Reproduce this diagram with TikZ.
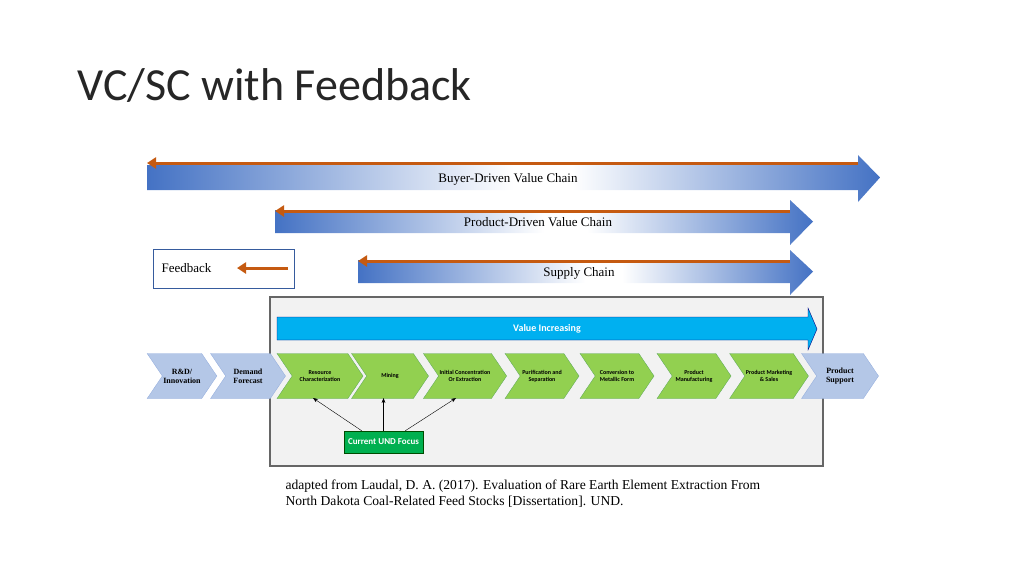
\documentclass[tikz,border=0pt]{standalone}
\usepackage{fontspec}
\setmainfont{Liberation Serif}
\newfontfamily\titlefont{Carlito}
\usetikzlibrary{shapes.symbols,arrows.meta}
\definecolor{chainblue}{HTML}{4472C4}
\definecolor{feedorange}{HTML}{C55A11}
\definecolor{stepgreen}{HTML}{92D050}
\definecolor{stepblue}{HTML}{B4C7E7}
\definecolor{valuecyan}{HTML}{00B0F0}
\definecolor{focusgreen}{HTML}{00B050}
\tikzset{
  chev/.style={signal,signal from=west,signal to=east,signal pointer angle=112,
    minimum height=45pt,inner sep=1pt,align=center,draw,line width=0.3pt},
  bluechev/.style={chev,fill=stepblue,draw=chainblue!60,font=\bfseries\fontsize{8}{9}\selectfont},
  greenchev/.style={chev,fill=stepgreen,draw=green!30!gray,font=\titlefont\bfseries\fontsize{6}{7}\selectfont},
  feedback/.style={draw=feedorange,line width=3pt,-{Triangle[length=9pt,width=11pt]}},
  chainlabel/.style={font=\fontsize{13}{15}\selectfont}
}
\newcommand\chainarrow[5]{% x left, x body end, x tip, y top, y bottom
  \begin{scope}
  \clip (#1,#4) -- (#2,#4) -- (#2,#4-10) -- (#3,{(#4+#5)/2}) -- (#2,#5+12) -- (#2,#5) -- (#1,#5) -- cycle;
  \shade[left color=chainblue,right color=white] (#1,#4-12) rectangle ({#1+0.5*(#3-#1)},#5+12);
  \fill[white] ({#1+0.5*(#3-#1)},#4-12) rectangle ({#1+0.58*(#3-#1)},#5+12);
  \shade[left color=white,right color=chainblue] ({#1+0.58*(#3-#1)},#4-12) rectangle (#3,#5+12);
  \end{scope}}
\begin{document}
\begin{tikzpicture}[x=1pt,y=-1pt]
\useasboundingbox (0,0) rectangle (1024,576);
\node[anchor=west,text=black!85,font=\titlefont\fontsize{46}{52}\selectfont] (title) at (74,86) {VC/SC with Feedback};
% chains
\chainarrow{147}{858}{880}{165}{190}
\chainarrow{275}{790}{813}{210}{233}
\chainarrow{358}{790}{813}{260}{283}
\coordinate (bR) at (858,163); \coordinate (bL) at (147,163);
\coordinate (pR) at (790,211); \coordinate (pL) at (275,211);
\coordinate (sR) at (790,261); \coordinate (sL) at (358,261);
\draw[feedback] (bR) -- (bL);
\draw[feedback] (pR) -- (pL);
\draw[feedback] (sR) -- (sL);
\node[chainlabel] (buyer) at (508,179) {Buyer-Driven Value Chain};
\node[chainlabel] (product) at (538,222) {Product-Driven Value Chain};
\node[chainlabel] (supply) at (579,273) {Supply Chain};
% feedback legend
\node[draw=chainblue!80!black,minimum width=141pt,minimum height=39pt] (legend) at (223.5,268.5) {};
\node[chainlabel,anchor=west] (fbtext) at (158,268) {Feedback};
\coordinate (fbR) at (288,268); \coordinate (fbL) at (237,268);
\draw[feedback] (fbR) -- (fbL);
% frame
\node[draw=gray!80!black,fill=gray!10,line width=1.5pt,minimum width=553pt,minimum height=169pt] (frame) at (546.5,381.5) {};
\draw[fill=valuecyan,draw=blue!50!black] (277,317) -- (808,317) -- (808,308) -- (817,329) -- (808,350) -- (808,340) -- (277,340) -- cycle;
\node[text=white,font=\titlefont\bfseries\fontsize{10}{12}\selectfont] (value) at (547,329) {Value Increasing};
% steps
\node[bluechev,minimum width=68pt] (rd) at (182,376) {R\&D/\\Innovation};
\node[bluechev,minimum width=75pt] (demand) at (248,376) {Demand\\Forecast};
\node[greenchev,minimum width=86pt] (res) at (320,376) {Resource\\Characterization};
\node[greenchev,minimum width=77pt] (mining) at (390,376) {Mining};
\node[greenchev,minimum width=76pt] (init) at (465,376) {Initial Concentration\\Or Extraction};
\node[greenchev,minimum width=74pt] (pur) at (542,376) {Purification and\\Separation};
\node[greenchev,minimum width=74pt] (conv) at (617,376) {Conversion to\\Metallic Form};
\node[greenchev,minimum width=74pt] (manu) at (694,376) {Product\\Manufacturing};
\node[greenchev,minimum width=73pt] (mkt) at (769,376) {Product Marketing\\\& Sales};
\node[bluechev,minimum width=77pt] (support) at (840,376) {Product\\Support};
% focus
\node[fill=focusgreen,draw=green!30!black,text=white,minimum width=79pt,minimum height=22pt,
  font=\titlefont\bfseries\fontsize{9}{11}\selectfont] (focus) at (383.5,442) {Current UND Focus};
\coordinate (resfoot) at (313,398);
\coordinate (minefoot) at (383.5,398);
\coordinate (initfoot) at (456,398);
\draw[-{Stealth[length=5pt]}] (focus.north west) ++(18,0) -- (resfoot);
\draw[-{Stealth[length=5pt]}] (focus.north) -- (minefoot);
\draw[-{Stealth[length=5pt]}] (focus.north east) ++(-18,0) -- (initfoot);
% source
\node[anchor=north west,align=left,font=\fontsize{13.6}{16}\selectfont] (source) at (282,476)
  {adapted from Laudal, D. A. (2017). Evaluation of Rare Earth Element Extraction From\\North Dakota Coal-Related Feed Stocks [Dissertation]. UND.};
\end{tikzpicture}
\end{document}
